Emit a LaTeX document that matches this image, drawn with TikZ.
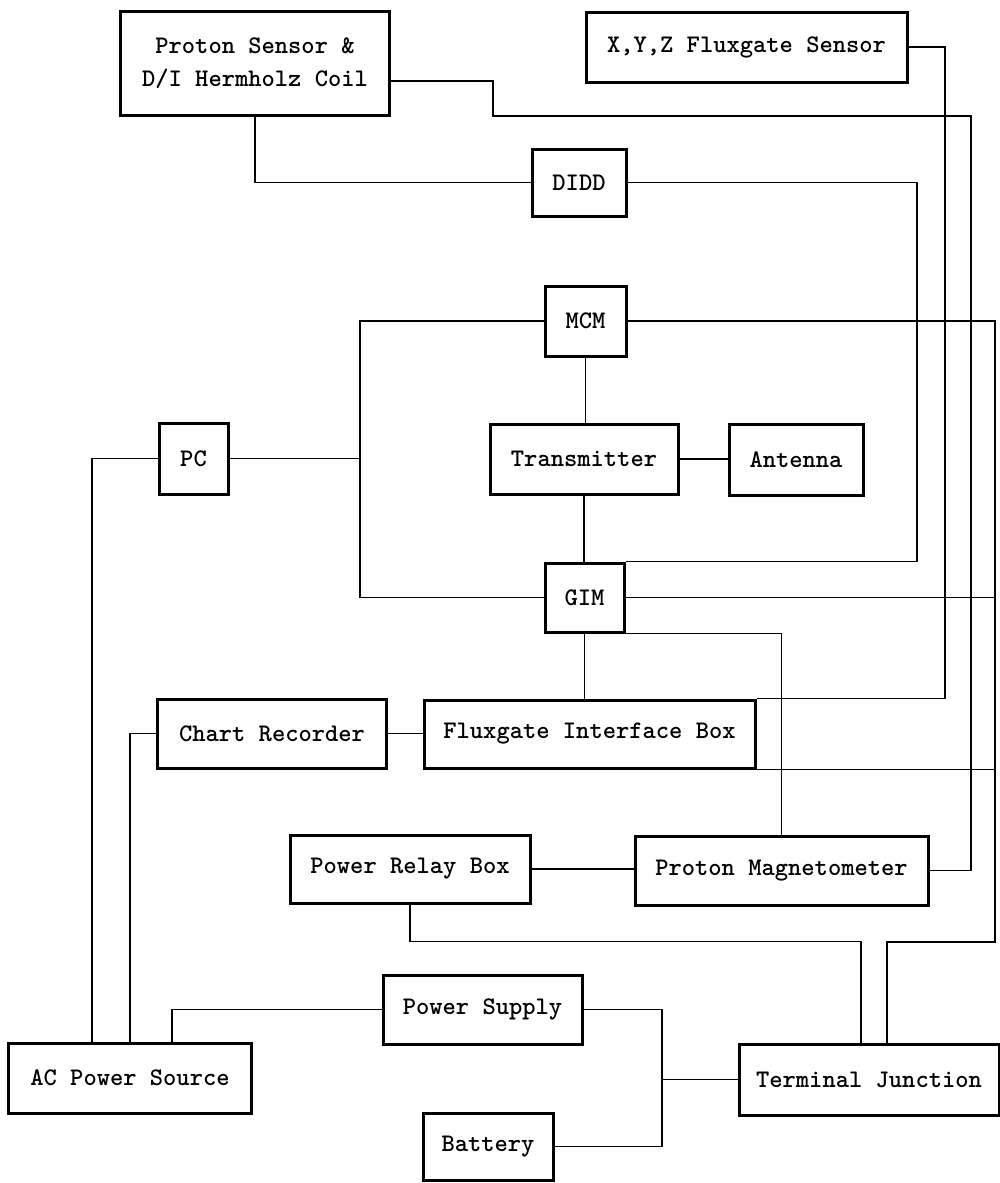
\documentclass[tikz,border=0pt]{standalone}
\usetikzlibrary{calc}

\begin{document}
\begin{tikzpicture}[x=0.2mm, y=-0.2mm,
    blk/.style={rectangle, draw, line width=0.6mm, align=center, inner sep=2pt, font=\ttfamily\bfseries\fontsize{14.4}{19}\selectfont},
    wire/.style={line width=0.35mm}]
    \useasboundingbox (0,0) rectangle (1000,1183);

    % sensors and top units
    \node[blk, minimum width=53.6mm, minimum height=20.8mm] (psens) at (255,63) {Proton Sensor \&\\D/I Hermholz Coil};
    \node[blk, minimum width=64.2mm, minimum height=14mm] (xyz) at (746.5,47) {X,Y,Z Fluxgate Sensor};
    \node[blk, minimum width=18.8mm, minimum height=13.4mm] (didd) at (579,182.5) {DIDD};
    \node[blk, minimum width=16.2mm, minimum height=14mm] (mcm) at (585.5,321) {MCM};
    \node[blk, minimum width=13.8mm, minimum height=14.2mm] (pc) at (193.5,458.5) {PC};
    \node[blk, minimum width=37.6mm, minimum height=14mm] (trans) at (584,459) {Transmitter};
    \node[blk, minimum width=26.8mm, minimum height=14.2mm] (ant) at (796,459.5) {Antenna};
    \node[blk, minimum width=15.8mm, minimum height=13.8mm] (gim) at (584.5,597.5) {GIM};
    \node[blk, minimum width=45.6mm, minimum height=13.8mm] (chart) at (272,733.5) {Chart Recorder};
    \node[blk, minimum width=66.2mm, minimum height=13.6mm] (fib) at (589.5,734) {Fluxgate Interface Box};
    % power side
    \node[blk, minimum width=48mm, minimum height=13.6mm] (relay) at (410,869) {Power Relay Box};
    \node[blk, minimum width=58.6mm, minimum height=13.8mm] (pmag) at (781.5,870.5) {Proton Magnetometer};
    \node[blk, minimum width=39.8mm, minimum height=13.8mm] (psup) at (482.5,1009.5) {Power Supply};
    \node[blk, minimum width=48.4mm, minimum height=14mm] (acps) at (130,1078) {AC Power Source};
    \node[blk, minimum width=52mm, minimum height=14.2mm] (tj) at (869,1079.5) {Terminal Junction};
    \node[blk, minimum width=26mm, minimum height=13.4mm] (batt) at (488,1146.5) {Battery};

    \coordinate (pcbus) at (360,0);
    \coordinate (dbus) at (917,0);
    \coordinate (xbus) at (945,0);
    \coordinate (mbus) at (995,942);
    \coordinate (jn) at (662,1079.5);

    % centre column
    \draw[wire] (mcm.south) -- (mcm.south |- trans.north);
    \draw[wire] (trans.south) -- (trans.south |- gim.north);
    \draw[wire] (trans.east) -- (trans.east -| ant.west);
    \draw[wire] (gim.south) -- (gim.south |- fib.north);
    \draw[wire] (chart.east) -- (chart.east -| fib.west);
    \draw[wire] (mcm.west) -| (gim.west -| pcbus) -- (gim.west);
    \draw[wire] (pc.east) -- (pc.east -| pcbus);

    % long runs on the right
    \draw[wire] (psens.south) |- (didd.west);
    \draw[wire] ([yshift=-3.6mm]psens.east) -| (493,116) -- (971,116) |- (pmag.east);
    \draw[wire] (didd.east) -| (gim.north east -| dbus) -- (gim.north east);
    \draw[wire] (xyz.east) -| (fib.north east -| xbus) -- (fib.north east);
    \draw[wire] (mcm.east) -| (mbus) -| ([xshift=3.6mm]tj.north);
    \draw[wire] (gim.east) -- (gim.east -| mbus);
    \draw[wire] (fib.south east) -- (fib.south east -| mbus);
    \draw[wire] (gim.south east) -| (pmag.north);

    % power wiring
    \draw[wire] (pc.west) -| ([xshift=-7.6mm]acps.north);
    \draw[wire] (chart.west) -| (acps.north);
    \draw[wire] ([xshift=8.4mm]acps.north) |- (psup.west);
    \draw[wire] (relay.east) -- (relay.east -| pmag.west);
    \draw[wire] (relay.south) -- ++(0,37) -| ([xshift=-1.6mm]tj.north);
    \draw[wire] (psup.east) -| (jn) |- (batt.east);
    \draw[wire] (jn) -- (tj.west);
\end{tikzpicture}
\end{document}
